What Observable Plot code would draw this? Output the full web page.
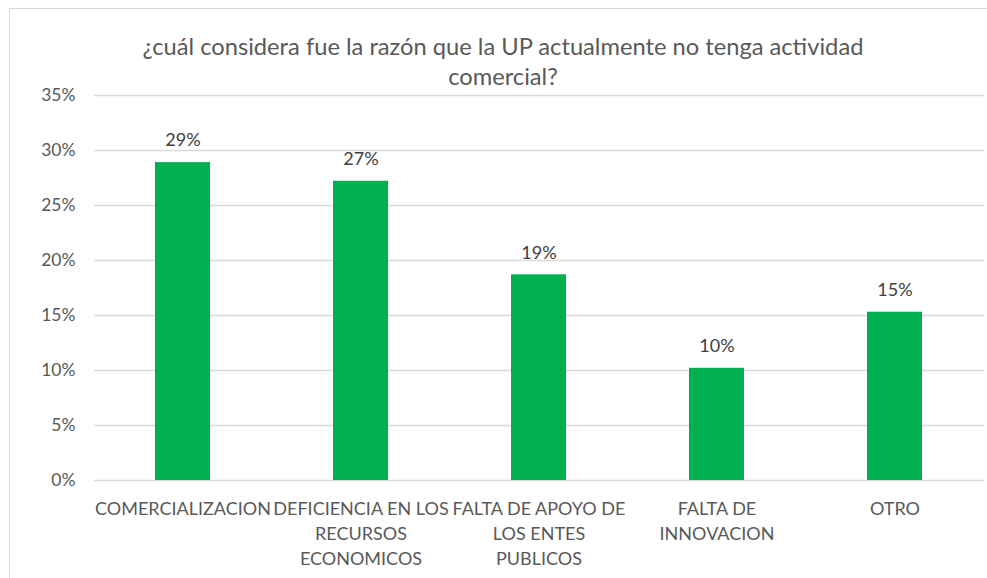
<!DOCTYPE html>
<html>
<head>
<meta charset="utf-8">
<script src="https://cdn.jsdelivr.net/npm/d3@7"></script>
<script src="https://cdn.jsdelivr.net/npm/@observablehq/plot@0.6"></script>
<style>
  html, body { margin: 0; padding: 0; background: #fff; overflow: hidden; }
  #wrap { position: relative; width: 987px; height: 578px; font-family: Lato, "Open Sans", sans-serif; }
  #border { position: absolute; left: 9px; top: 8px; width: 990px; height: 600px; border: 1.5px solid #d9d9d9; box-sizing: border-box; }
  #title { position: absolute; left: 0; width: 1006px; top: 31px; text-align: center; font-size: 23.7px; line-height: 30px; color: #595959; }
  #chart { position: absolute; left: 0; top: 0; }
</style>
</head>
<body>
<div id="wrap">
  <div id="border"></div>
  <div id="chart"></div>
  <div id="title">¿cuál considera fue la razón que la UP actualmente no tenga actividad<br>comercial?</div>
</div>
<script>
const categories = ["COMERCIALIZACION", "DEFICIENCIA EN LOS RECURSOS ECONOMICOS", "FALTA DE APOYO DE LOS ENTES PUBLICOS", "FALTA DE INNOVACION", "OTRO"];
const tickLabels = ["COMERCIALIZACION", "DEFICIENCIA EN LOS\nRECURSOS\nECONOMICOS", "FALTA DE APOYO DE\nLOS ENTES\nPUBLICOS", "FALTA DE\nINNOVACION", "OTRO"];
const values = [0.289, 0.272, 0.187, 0.102, 0.153];
const yTicks = [0, 0.05, 0.10, 0.15, 0.20, 0.25, 0.30, 0.35];

const data = categories.map((c, i) => ({cat: c, value: values[i], label: tickLabels[i]}));

const chart = Plot.plot({
  width: 987,
  height: 578,
  marginTop: 95,
  marginBottom: 98,
  marginLeft: 94,
  marginRight: 3,
  style: {fontFamily: "Lato, 'Open Sans', sans-serif", fontSize: "17px", color: "#595959", background: "transparent"},
  x: {domain: categories, paddingInner: 0.69, paddingOuter: 0.345, label: null},
  y: {domain: [0, 0.35], label: null},
  marks: [
    Plot.ruleY(yTicks, {stroke: "#d9d9d9", strokeWidth: 1.3, strokeOpacity: 1}),
    Plot.barY(data, {x: "cat", y: "value", fill: "#00B050"}),
    Plot.text(data, {x: "cat", y: "value", text: d => Math.round(d.value * 100) + "%", dy: -22, fill: "#404040", fontSize: 18}),
    Plot.axisY({ticks: yTicks, tickFormat: d => Math.round(d * 100) + "%", tickSize: 0, tickPadding: 19, fill: "#595959", fontSize: 17.5}),
    Plot.axisX({tickSize: 0, tickPadding: 17, tickFormat: d => tickLabels[categories.indexOf(d)], fill: "#595959", fontSize: 18, lineHeight: 1.39})
  ]
});
document.getElementById("chart").appendChild(chart);
</script>
</body>
</html>
